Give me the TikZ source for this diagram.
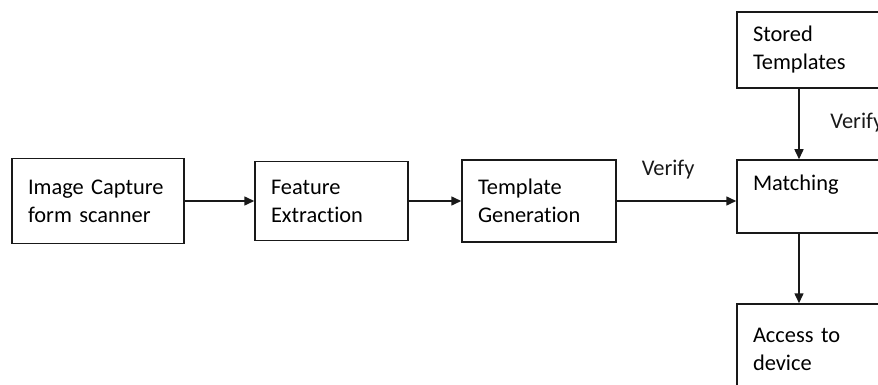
\documentclass[tikz,border=0pt]{standalone}
\usepackage{fontspec}
\setmainfont{Carlito}[Ligatures=NoCommon, WordSpace=0.7]
\usetikzlibrary{arrows.meta, positioning}
\hyphenpenalty=10000
\definecolor{LineColor}{RGB}{25,25,25}
\tikzstyle{block} = [draw=LineColor, line width=0.75pt, align=left, inner xsep=8pt, inner ysep=0pt]
\tikzstyle{arrow} = [line width=0.75pt, LineColor, -{Triangle[length=5pt,width=4.5pt]}]

\begin{document}
\begin{tikzpicture}[x=0.5pt, y=-0.5pt, font=\fontsize{11.2}{14}\selectfont]
        \clip (0,0) rectangle (878,385);

        % Enrolment chain
        \node[block, text width=70pt, minimum height=42.5pt] (capture) at (98,201) {Image Capture\\form scanner};
        \node[block, text width=60.5pt, minimum height=39.5pt] (feature) at (331.5,201) {Feature\\Extraction};
        \node[block, text width=61pt, minimum height=41pt] (generation) at (539,201) {Template\\Generation};

        % Right column
        \node[block, text width=64pt, minimum height=38pt] (stored) at (817,50) {Stored\\Templates};
        \node[block, text width=64pt, minimum height=36.5pt] (matching) at (817,196.5) {Matching\\~};
        \node[block, text width=64pt, minimum height=45pt] (access) at (817,349) {Access to\\device};
        \coordinate (vx) at (799,0);

        % Arrows
        \draw[arrow] (capture.east) -- (feature.west);
        \draw[arrow] (feature.east) -- (generation.west);
        \draw[arrow] (generation.east) -- (generation.east -| matching.west)
            node[pos=0.43, anchor=base, yshift=12.5pt] {Verify};
        \draw[arrow] (stored.south -| vx) -- (matching.north -| vx)
            node[pos=0.56, anchor=base west, xshift=12pt] {Verify};
        \draw[arrow] (matching.south -| vx) -- (access.north -| vx);

      \end{tikzpicture}
\end{document}
